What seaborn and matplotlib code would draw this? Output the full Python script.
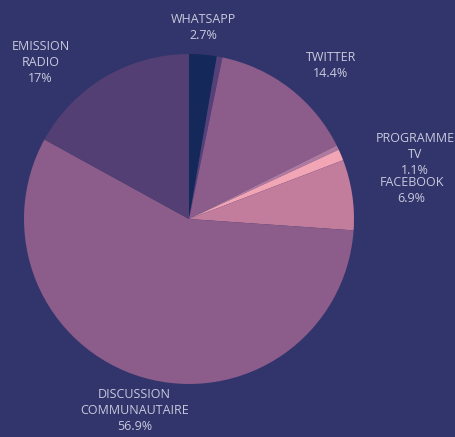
import matplotlib
matplotlib.use('Agg')
import matplotlib.pyplot as plt
import seaborn as sns

# données (sens horaire depuis midi)
labels = ['WHATSAPP\n2.7%', '', 'TWITTER\n14.4%', '', 'PROGRAMME\nTV\n1.1%',
          'FACEBOOK\n6.9%', 'DISCUSSION\nCOMMUNAUTAIRE\n56.9%', 'EMISSION\nRADIO\n17%']
valeurs = [2.7, 0.55, 14.4, 0.45, 1.1, 6.9, 56.9, 17.0]
couleurs = ['#14285a', '#55407a', '#8c5c8a', '#b07aa0', '#f2a5b5',
            '#c27c9c', '#8c5c8a', '#533f73']
# position des étiquettes (unités du rayon)
pos_etiquettes = [(0.09, 1.16), None, (0.86, 0.93), None, (1.37, 0.39),
                  (1.35, 0.17), (-0.33, -1.16), (-0.90, 0.95)]

fond = '#31356b'
sns.set_style('white')
plt.rcParams['font.family'] = ['Open Sans', 'DejaVu Sans']

fig = plt.figure(figsize=(4.55, 4.37), dpi=100, facecolor=fond)
ax = fig.add_axes([0, 0, 1, 1])
ax.set_facecolor(fond)

ax.pie(valeurs, colors=couleurs, startangle=90, counterclock=False,
       radius=1, wedgeprops={'linewidth': 0})

for txt, p in zip(labels, pos_etiquettes):
    if p is None:
        continue
    ax.text(p[0], p[1], txt, ha='center', va='center', color='#c9c9dd',
            fontsize=9, linespacing=1.3)

ax.set_xlim(-189 / 165, (455 - 189) / 165)
ax.set_ylim((219 - 437) / 165, 219 / 165)
ax.set_aspect('equal')
ax.axis('off')

plt.savefig('out.png', dpi=100, facecolor=fond)
